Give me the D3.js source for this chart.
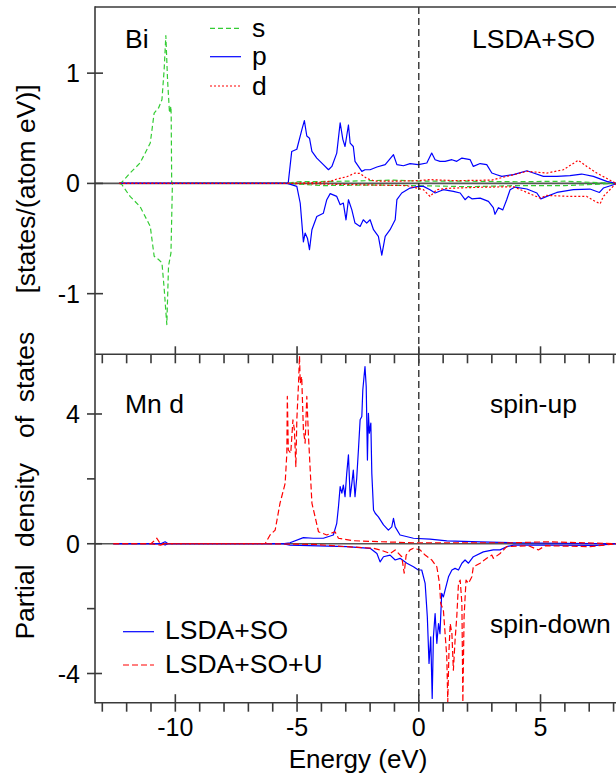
<!DOCTYPE html>
<html>
<head>
<meta charset="utf-8">
<script src="https://cdn.jsdelivr.net/npm/d3@7"></script>
<style>
  html, body { margin: 0; padding: 0; background: #fff; }
  svg { display: block; }
  text { font-family: "Liberation Sans", Arial, sans-serif; fill: #000; }
</style>
</head>
<body>
<script>
// ---------------- DATA ----------------
const energyDomain = [-13.3, 8.1];
const xMajorTicks = [-10, -5, 0, 5];
const xMinorTicks = d3.range(-13, 9, 1);
const topYTicks = [-1, 0, 1];
const bottomYMajorTicks = [-4, 0, 4];
const bottomYMinorTicks = [-2, 2];

// Bi partial DOS (top panel), [energy eV, states/(atom eV)]
const biS_up = [[-12.3,0],[-12.2,0.01],[-11.86,0.094],[-11.45,0.185],[-11.03,0.366],[-10.87,0.638],[-10.69,0.684],[-10.55,0.76],[-10.46,1.03],[-10.39,1.34],[-10.32,0.94],[-10.24,0.64],[-10.18,0.70],[-10.17,0.60],[-10.15,0],[-5.4,0],[-5.0,0.015],[-3.0,0.02],[-1.04,0.03],[0,0.02],[2,0.02],[4,0.015],[6,0.02],[8.1,0]];
const biS_dn = [[-12.3,0],[-12.2,-0.01],[-11.86,-0.118],[-11.45,-0.21],[-11.03,-0.39],[-10.87,-0.66],[-10.69,-0.69],[-10.55,-0.72],[-10.46,-0.95],[-10.35,-1.28],[-10.28,-0.75],[-10.18,-0.63],[-10.12,0],[-5.4,0],[-4,-0.02],[-2,-0.015],[0,-0.02],[2,-0.03],[4,-0.02],[6,-0.02],[8.1,0]];
const biP_up = [[-12.3,0],[-5.4,0],[-5.36,0.01],[-5.22,0.29],[-5.01,0.31],[-4.80,0.49],[-4.70,0.57],[-4.60,0.43],[-4.49,0.41],[-4.39,0.29],[-4.19,0.23],[-3.92,0.17],[-3.71,0.124],[-3.57,0.154],[-3.37,0.275],[-3.23,0.55],[-3.12,0.40],[-3.03,0.335],[-2.89,0.53],[-2.82,0.366],[-2.69,0.335],[-2.62,0.20],[-2.48,0.154],[-2.34,0.109],[-2.21,0.124],[-2.00,0.124],[-1.72,0.149],[-1.38,0.17],[-1.04,0.26],[-0.90,0.17],[-0.63,0.16],[-0.36,0.18],[-0.02,0.17],[0.33,0.185],[0.53,0.275],[0.67,0.215],[0.87,0.20],[1.08,0.20],[1.36,0.215],[1.56,0.20],[1.77,0.23],[2.11,0.215],[2.24,0.154],[2.52,0.18],[2.79,0.17],[3.0,0.094],[3.2,0.079],[3.41,0.064],[3.89,0.079],[4.44,0.115],[4.71,0.094],[5.12,0.064],[5.67,0.064],[6.21,0.07],[6.69,0.085],[7.17,0.064],[7.72,0.018],[8.1,0]];
const biP_dn = [[-12.3,0],[-5.4,0],[-5.01,-0.027],[-4.87,-0.18],[-4.74,-0.53],[-4.67,-0.45],[-4.57,-0.50],[-4.49,-0.60],[-4.39,-0.42],[-4.19,-0.30],[-3.92,-0.27],[-3.78,-0.148],[-3.64,-0.093],[-3.37,-0.118],[-3.23,-0.193],[-3.10,-0.178],[-2.99,-0.33],[-2.89,-0.148],[-2.75,-0.24],[-2.62,-0.36],[-2.41,-0.39],[-2.28,-0.33],[-2.14,-0.36],[-2.0,-0.33],[-1.86,-0.42],[-1.66,-0.48],[-1.52,-0.65],[-1.38,-0.48],[-1.18,-0.42],[-0.97,-0.33],[-0.90,-0.148],[-0.70,-0.087],[-0.36,-0.042],[-0.02,-0.027],[0.19,-0.027],[0.46,-0.057],[0.67,-0.087],[1.01,-0.057],[1.42,-0.072],[1.70,-0.087],[1.90,-0.148],[2.04,-0.118],[2.18,-0.14],[2.52,-0.133],[2.86,-0.163],[3.06,-0.22],[3.13,-0.28],[3.27,-0.22],[3.45,-0.24],[3.61,-0.148],[3.75,-0.057],[3.95,-0.033],[4.44,-0.051],[4.85,-0.087],[5.01,-0.14],[5.26,-0.118],[5.67,-0.082],[6.35,-0.057],[7.03,-0.051],[7.42,-0.082],[7.58,-0.042],[8.1,-0.005]];
const biD_up = [[-12.3,0],[-5.4,0],[-4.0,0.01],[-3.6,0.02],[-3.37,0.04],[-2.96,0.06],[-2.62,0.094],[-2.41,0.09],[-2.14,0.045],[-1.8,0.02],[-1.0,0.02],[0.0,0.025],[0.46,0.034],[1.5,0.025],[3.0,0.03],[3.89,0.079],[4.44,0.109],[5.26,0.094],[5.94,0.124],[6.55,0.21],[6.9,0.154],[7.31,0.094],[8.1,0]];
const biD_dn = [[-12.3,0],[-5.4,0],[-3,-0.01],[-0.5,-0.02],[0.19,-0.057],[0.46,-0.118],[0.74,-0.057],[1.15,-0.045],[2.5,-0.035],[3.89,-0.03],[4.98,-0.133],[5.26,-0.109],[6.21,-0.118],[6.9,-0.118],[7.24,-0.163],[7.45,-0.184],[7.58,-0.118],[8.1,0]];

// Mn d partial DOS (bottom panel)
const mnSO_up = [[-12.55,0],[-10.6,0],[-10.42,0.06],[-10.3,0],[-5.6,0],[-5.29,0.03],[-4.74,0.19],[-4.33,0.17],[-3.92,0.17],[-3.51,0.27],[-3.37,0.63],[-3.30,1.14],[-3.23,1.76],[-3.16,1.56],[-3.10,1.81],[-3.03,1.45],[-2.96,2.17],[-2.89,2.74],[-2.82,1.45],[-2.75,1.86],[-2.69,2.27],[-2.62,1.45],[-2.55,2.02],[-2.48,2.89],[-2.41,3.82],[-2.34,3.92],[-2.30,4.74],[-2.25,5.15],[-2.21,5.46],[-2.16,4.85],[-2.11,2.58],[-2.07,4.02],[-2.03,3.41],[-1.97,3.72],[-1.93,2.17],[-1.86,1.04],[-1.79,0.94],[-1.66,0.83],[-1.45,0.58],[-1.25,0.42],[-1.11,0.52],[-1.04,0.78],[-0.97,0.52],[-0.77,0.27],[-0.22,0.17],[0.46,0.14],[1.15,0.09],[2.52,0.06],[3.89,0.03],[8.1,0]];
const mnSO_dn = [[-12.55,0],[-10.6,0],[-10.42,-0.04],[-10.3,0],[-5.6,0],[-5.29,-0.04],[-2.96,-0.09],[-2.0,-0.14],[-1.72,-0.3],[-1.59,-0.56],[-1.45,-0.4],[-1.18,-0.35],[-0.97,-0.5],[-0.77,-0.45],[-0.49,-0.6],[-0.22,-0.71],[-0.02,-0.81],[0.12,-0.81],[0.26,-1.22],[0.35,-2.25],[0.42,-3.69],[0.49,-2.87],[0.55,-4.77],[0.60,-2.87],[0.67,-2.15],[0.74,-3.07],[0.81,-2.46],[0.87,-2.77],[0.94,-1.53],[1.01,-1.64],[1.08,-1.43],[1.22,-1.02],[1.36,-0.81],[1.49,-0.76],[1.63,-0.81],[1.77,-0.6],[1.90,-0.5],[2.04,-0.6],[2.24,-0.4],[2.65,-0.25],[3.06,-0.19],[3.34,-0.19],[3.61,-0.09],[3.89,-0.04],[5.26,-0.04],[7.3,-0.05],[8.1,0]];
const mnSOU_up = [[-12.55,0],[-11.0,0],[-10.76,0.17],[-10.62,0],[-6.31,0],[-6.11,0.27],[-5.90,0.42],[-5.70,1.25],[-5.49,1.86],[-5.42,2.79],[-5.40,4.54],[-5.36,2.89],[-5.26,2.79],[-5.17,3.82],[-5.11,3.51],[-5.05,2.38],[-5.01,3.82],[-4.94,4.95],[-4.90,5.79],[-4.87,4.95],[-4.81,5.15],[-4.74,3.51],[-4.67,3.10],[-4.60,4.54],[-4.53,3.30],[-4.46,2.27],[-4.39,1.25],[-4.26,0.83],[-4.12,0.37],[-3.78,0.27],[-3.44,0.37],[-3.30,0.17],[-2.69,0.093],[-1.59,0.062],[-0.22,0.031],[3.89,0.03],[5.26,0.06],[8.1,0]];
const mnSOU_dn = [[-12.55,0],[-11.0,0],[-10.62,-0.04],[-10.4,0],[-6.31,0],[-4.33,-0.02],[-2.96,-0.09],[-1.86,-0.14],[-1.59,-0.19],[-1.18,-0.3],[-0.97,-0.19],[-0.70,-0.4],[-0.60,-0.91],[-0.52,-0.35],[-0.36,-0.19],[-0.22,-0.14],[0.05,-0.19],[0.26,-0.35],[0.53,-0.5],[0.74,-0.71],[0.85,-1.22],[0.90,-1.84],[1.01,-2.05],[1.08,-2.77],[1.15,-3.49],[1.19,-4.88],[1.24,-3.28],[1.29,-2.46],[1.36,-2.77],[1.42,-3.9],[1.49,-2.97],[1.56,-2.25],[1.63,-1.22],[1.70,-1.12],[1.77,-1.84],[1.81,-4.88],[1.86,-2.25],[1.94,-1.12],[2.04,-1.22],[2.18,-1.02],[2.24,-0.71],[2.52,-0.6],[2.79,-0.45],[3.0,-0.35],[3.06,-0.45],[3.34,-0.3],[3.61,-0.09],[4.5,-0.06],[4.91,-0.19],[5.2,-0.06],[7.03,-0.09],[8.1,0]];

const topLegend = ["s", "p", "d"];
const bottomLegend = ["LSDA+SO", "LSDA+SO+U"];

// ---------------- LAYOUT ----------------
const W = 616, H = 780;
const left = 95, right = 616;
const topT = 7, midY = 354.3, botB = 702.7;
const axisColor = "#3a3a3a";
const FS = 25;     // tick labels
const FA = 26.5;   // annotations / legends

const svg = d3.select("body").append("svg").attr("width", W).attr("height", H);

const x = d3.scaleLinear().domain(energyDomain).range([left, right]);
const yTop = d3.scaleLinear().domain([-1.55, 1.6]).range([midY, topT]);
const yBot = d3.scaleLinear().domain([-4.9, 5.84]).range([botB, midY]);

const defs = svg.append("defs");
defs.append("clipPath").attr("id", "clipTop").append("rect")
  .attr("x", left).attr("y", topT).attr("width", right - left).attr("height", midY - topT);
defs.append("clipPath").attr("id", "clipBot").append("rect")
  .attr("x", left).attr("y", midY).attr("width", right - left).attr("height", botB - midY);

// zero lines
[yTop, yBot].forEach(ys => {
  svg.append("line").attr("x1", left).attr("x2", right)
    .attr("y1", ys(0)).attr("y2", ys(0))
    .attr("stroke", "#555").attr("stroke-width", 1.6);
});

function drawCurve(data, ys, clip, color, dash, width) {
  const line = d3.line().x(d => x(d[0])).y(d => ys(d[1]));
  svg.append("path").datum(data)
    .attr("clip-path", `url(#${clip})`)
    .attr("d", line).attr("fill", "none")
    .attr("stroke", color).attr("stroke-width", width || 1.2)
    .attr("stroke-dasharray", dash || null)
    .attr("stroke-linejoin", "round");
}

const green = "#33cc33", blue = "#0000ff", red = "#ff0000";
// top panel curves
drawCurve(biS_up, yTop, "clipTop", green, "5,3");
drawCurve(biS_dn, yTop, "clipTop", green, "5,3");
drawCurve(biP_up, yTop, "clipTop", blue, null);
drawCurve(biP_dn, yTop, "clipTop", blue, null);
drawCurve(biD_up, yTop, "clipTop", red, "2,2");
drawCurve(biD_dn, yTop, "clipTop", red, "2,2");
// bottom panel curves
drawCurve(mnSO_up, yBot, "clipBot", blue, null);
drawCurve(mnSO_dn, yBot, "clipBot", blue, null);
drawCurve(mnSOU_up, yBot, "clipBot", red, "6,3");
drawCurve(mnSOU_dn, yBot, "clipBot", red, "6,3");

// Fermi level dashed line
svg.append("line").attr("x1", x(0)).attr("x2", x(0)).attr("y1", topT).attr("y2", botB)
  .attr("stroke", "#222").attr("stroke-width", 1.3).attr("stroke-dasharray", "7,4");

// frame
const frame = svg.append("g").attr("stroke", axisColor).attr("stroke-width", 1.6).attr("fill", "none");
frame.append("line").attr("x1", left).attr("x2", left).attr("y1", topT - 0.8).attr("y2", botB + 0.8);
frame.append("line").attr("x1", left).attr("x2", right).attr("y1", topT).attr("y2", topT);
frame.append("line").attr("x1", left).attr("x2", right).attr("y1", midY).attr("y2", midY);
frame.append("line").attr("x1", left).attr("x2", right).attr("y1", botB).attr("y2", botB);

// x ticks: top panel bottom edge (major, upward)
xMajorTicks.forEach(t => {
  frame.append("line").attr("x1", x(t)).attr("x2", x(t)).attr("y1", midY - 8).attr("y2", midY);
});
// bottom panel top edge (all, downward)
xMinorTicks.forEach(t => {
  frame.append("line").attr("x1", x(t)).attr("x2", x(t)).attr("y1", midY).attr("y2", midY + 9);
});
// bottom panel bottom edge
xMinorTicks.forEach(t => {
  const major = xMajorTicks.includes(t);
  frame.append("line").attr("x1", x(t)).attr("x2", x(t))
    .attr("y1", major ? botB - 8.5 : botB).attr("y2", botB + 9);
});
// y ticks
topYTicks.forEach(t => {
  frame.append("line").attr("x1", left - 8).attr("x2", left + 8).attr("y1", yTop(t)).attr("y2", yTop(t));
});
bottomYMajorTicks.forEach(t => {
  frame.append("line").attr("x1", left - 8).attr("x2", left + 7).attr("y1", yBot(t)).attr("y2", yBot(t));
});
bottomYMinorTicks.forEach(t => {
  frame.append("line").attr("x1", left - 8).attr("x2", left).attr("y1", yBot(t)).attr("y2", yBot(t));
});

// tick labels
const fmt = v => (v < 0 ? "-" + Math.abs(v) : String(v));
topYTicks.forEach(t => {
  svg.append("text").attr("x", 80).attr("y", yTop(t) + 9).attr("text-anchor", "end")
    .attr("font-size", FS).text(fmt(t));
});
bottomYMajorTicks.forEach(t => {
  svg.append("text").attr("x", 80).attr("y", yBot(t) + 9).attr("text-anchor", "end")
    .attr("font-size", FS).text(fmt(t));
});
xMajorTicks.forEach(t => {
  svg.append("text").attr("x", x(t)).attr("y", 736).attr("text-anchor", "middle")
    .attr("font-size", FS).text(fmt(t));
});

// axis titles
svg.append("text").attr("x", 358).attr("y", 768).attr("text-anchor", "middle")
  .attr("font-size", 26).text("Energy (eV)");
svg.append("text").attr("transform", "translate(35,189) rotate(-90)")
  .attr("text-anchor", "middle").attr("font-size", 26.5).text("[states/(atom eV)]");
const ylabWords = [["Partial", 602], ["density", 505], ["of", 427], ["states", 367]];
ylabWords.forEach(([w, cy]) => {
  svg.append("text").attr("transform", `translate(34,${cy}) rotate(-90)`)
    .attr("text-anchor", "middle").attr("font-size", 26.5).text(w);
});

// annotations
svg.append("text").attr("x", 125).attr("y", 48).attr("font-size", FA).text("Bi");
svg.append("text").attr("x", 472).attr("y", 48).attr("font-size", FA).text("LSDA+SO");
svg.append("text").attr("x", 125).attr("y", 413).attr("font-size", FA).text("Mn d");
svg.append("text").attr("x", 490).attr("y", 413).attr("font-size", FA).text("spin-up");
svg.append("text").attr("x", 490).attr("y", 633).attr("font-size", FA).text("spin-down");

// top legend
const topLegStyles = [[green, "5,3"], [blue, null], [red, "2,2"]];
const topLegY = [28.3, 56.7, 86];
topLegend.forEach((lab, i) => {
  svg.append("line").attr("x1", 210).attr("x2", 241).attr("y1", topLegY[i]).attr("y2", topLegY[i])
    .attr("stroke", topLegStyles[i][0]).attr("stroke-width", 1.2)
    .attr("stroke-dasharray", topLegStyles[i][1]);
  svg.append("text").attr("x", 252).attr("y", topLegY[i] + 8.5).attr("font-size", FA).text(lab);
});
// bottom legend
const botLegStyles = [[blue, null], [red, "6,3"]];
const botLegY = [631.7, 665];
bottomLegend.forEach((lab, i) => {
  svg.append("line").attr("x1", 123).attr("x2", 154).attr("y1", botLegY[i]).attr("y2", botLegY[i])
    .attr("stroke", botLegStyles[i][0]).attr("stroke-width", 1.2)
    .attr("stroke-dasharray", botLegStyles[i][1]);
  svg.append("text").attr("x", 165).attr("y", botLegY[i] + 7.5).attr("font-size", FA).text(lab);
});
</script>
</body>
</html>
